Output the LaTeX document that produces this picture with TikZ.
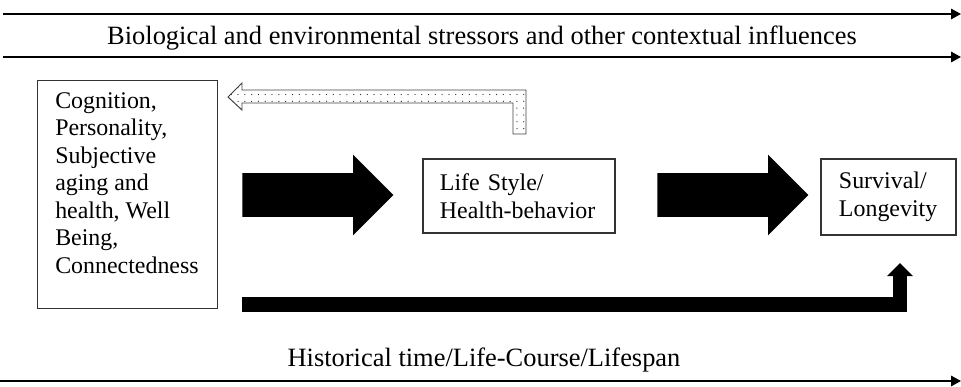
\documentclass[tikz,border=0pt]{standalone}
\usepackage{fontspec}
\setmainfont{Liberation Serif}
\usetikzlibrary{arrows.meta,shapes.arrows,patterns.meta}

\tikzset{
  txt/.style={font=\fontsize{17}{19.6}\selectfont},
  banner/.style={font=\fontsize{18.8}{22}\selectfont},
  box/.style={draw=black!80, line width=0.9pt, align=left, inner sep=0pt},
  timeline/.style={line width=1.4pt, -{Triangle[length=0.25cm,width=0.26cm]}},
  bigarrow/.style={single arrow, fill=black, inner xsep=0pt, inner ysep=0.5375cm,
    single arrow head extend=0.4625cm, minimum height=3.775cm, anchor=tail},
  feedback/.style={draw=black!75, line width=0.7pt,
    pattern={Dots[distance=0.17cm,radius=0.45pt]}, pattern color=black!85},
  direct/.style={line width=0.35cm, -{Triangle[length=0.33cm,width=0.63cm]}}
}

\begin{document}
\begin{tikzpicture}[x=0.025cm,y=-0.025cm]
	\useasboundingbox (0,0) rectangle (961,387);

	% ends of the time lines
	\coordinate (ctxa) at (3,14);
	\coordinate (ctxb) at (961,14);
	\coordinate (ctxc) at (3,57);
	\coordinate (ctxd) at (961,57);
	\coordinate (hista) at (0,381);
	\coordinate (histb) at (961,381);

	\draw[timeline] (ctxa) -- (ctxb);
	\node[banner, anchor=base] (ctx) at (482,45) {Biological and environmental stressors and other contextual influences};
	\draw[timeline] (ctxc) -- (ctxd);

	% the three boxes
	\node[box, minimum width=4.5cm, minimum height=5.7cm, anchor=north west] (cogbox) at (37,80) {};
	\node[txt, align=left, anchor=north west, inner sep=0pt] (cog) at (55,92)
	  {Cognition,\\Personality,\\Subjective\\aging and\\health, Well\\Being,\\Connectedness};
	\node[box, txt, text width=3.95cm, minimum height=1.85cm, inner xsep=0.425cm] (life) at (519,196)
	  {Life Style/\\Health-behavior};
	\node[box, txt, text width=2.475cm, minimum height=1.9cm, inner xsep=0.45cm] (surv) at (888.5,197)
	  {Survival/\\Longevity};

	% block arrows between them
	\node[bigarrow] (arra) at (242,195) {};
	\node[bigarrow] (arrb) at (657,195) {};

	% feedback arrow back to the left box
	\draw[feedback] (228,97) -- (242,83) -- (242,90) -- (526,90) -- (526,134)
	  -- (513,134) -- (513,103) -- (242,103) -- (242,110) -- cycle;

	% direct path to survival
	\coordinate (lowa) at (242,304.5);
	\coordinate (lowb) at (900,263);
	\draw[direct] (lowa) -| (lowb);

	\node[banner, anchor=base] (hist) at (484,366) {Historical time/Life-Course/Lifespan};
	\draw[timeline] (hista) -- (histb);
\end{tikzpicture}
\end{document}
